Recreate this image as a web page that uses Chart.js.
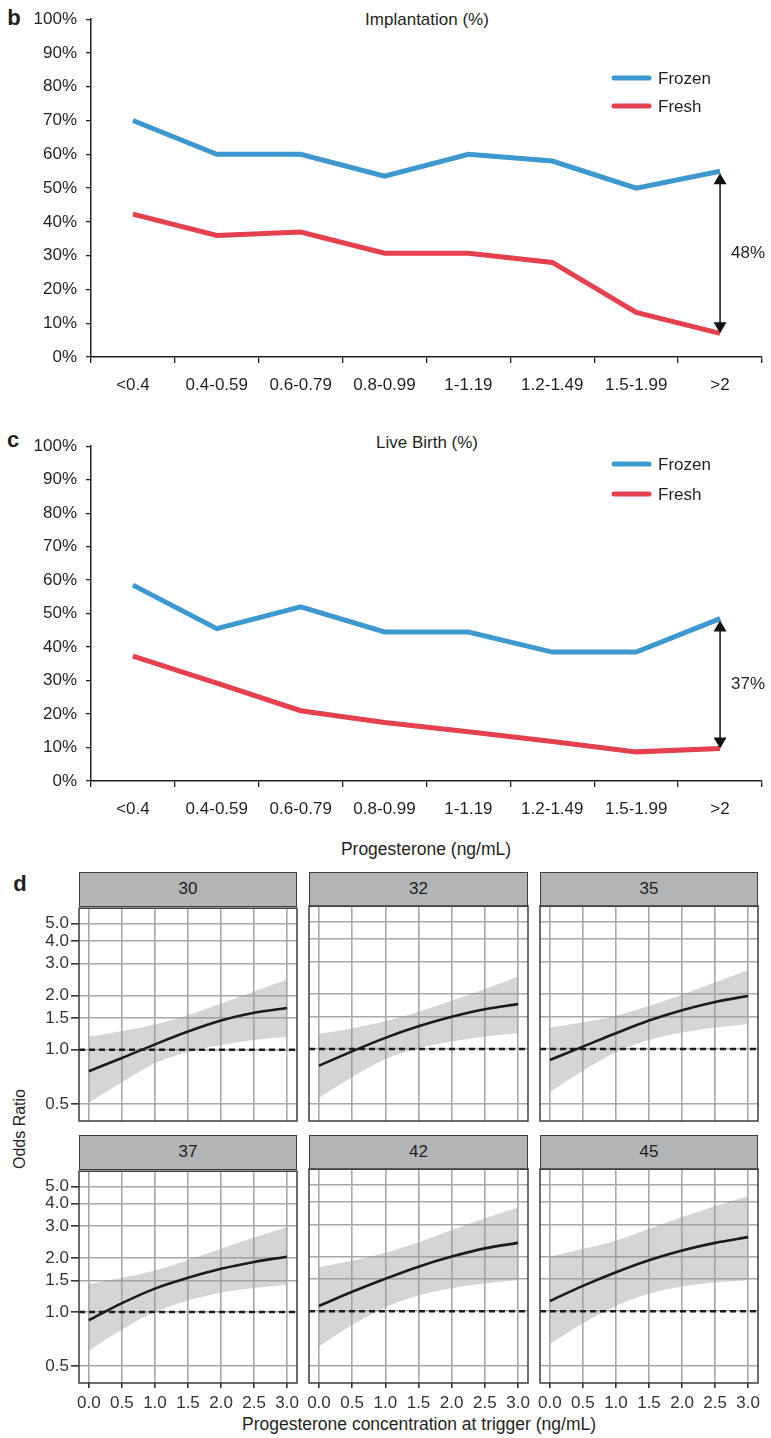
<!DOCTYPE html>
<html>
<head>
<meta charset="utf-8">
<script src="https://cdn.jsdelivr.net/npm/chart.js@4.4.0/dist/chart.umd.min.js"></script>
<style>
  body { margin: 0; background: #fff; }
  #page { position: relative; width: 771px; height: 1438px; font-family: "Liberation Sans", Arial, sans-serif; color: #231f20; overflow: hidden; }
  canvas { position: absolute; }
  .lbl { position: absolute; white-space: nowrap; line-height: 1; transform: translate(-50%, -50%); }
  .strip { position: absolute; box-sizing: border-box; background: #b3b4b6; border: 1.5px solid #3c3c3c; font-size: 17px; text-align: center; }
</style>
</head>
<body>
<div id="page">
  <div class="lbl" style="left:14px;top:18px;font-size:22px;font-weight:bold;">b</div>
  <div class="lbl" style="left:427px;top:19px;font-size:17px;">Implantation (%)</div>
  <canvas id="chartB" width="771" height="400" style="left:0;top:0;"></canvas>

  <div class="lbl" style="left:13px;top:440px;font-size:22px;font-weight:bold;">c</div>
  <div class="lbl" style="left:427px;top:442px;font-size:17px;">Live Birth (%)</div>
  <canvas id="chartC" width="771" height="397" style="left:0;top:427px;"></canvas>
  <div class="lbl" style="left:426px;top:850px;font-size:17.5px;">Progesterone (ng/mL)</div>

  <div class="lbl" style="left:20px;top:884px;font-size:22px;font-weight:bold;">d</div>
  <div class="lbl" style="left:20px;top:1129px;font-size:16px;transform:translate(-50%,-50%) rotate(-90deg);">Odds Ratio</div>
  <div class="lbl" style="left:419px;top:1425px;font-size:17.5px;">Progesterone concentration at trigger (ng/mL)</div>
  <div id="facets"></div>
</div>

<script>
// panels b and c: rates by progesterone group
const doseGroups = ["<0.4", "0.4-0.59", "0.6-0.79", "0.8-0.99", "1-1.19", "1.2-1.49", "1.5-1.99", ">2"];
const implFrozen = [70, 60, 60, 53.5, 60, 58, 50, 55];
const implFresh = [42.3, 36, 37, 30.7, 30.7, 28, 13.2, 7];
const liveFrozen = [58.5, 45.5, 52, 44.5, 44.5, 38.5, 38.5, 48.5];
const liveFresh = [37.3, 29.2, 21, 17.5, 14.7, 11.8, 8.7, 9.7];
const implGap = "48%";
const liveGap = "37%";

// panel d: odds ratio by progesterone, one facet per age
const progX = [0, 0.5, 1, 1.5, 2, 2.5, 3];
const ageGroups = ["30", "32", "35", "37", "42", "45"];
const orFit = [
  [0.76, 0.90, 1.07, 1.26, 1.45, 1.60, 1.70],
  [0.81, 0.97, 1.15, 1.33, 1.50, 1.65, 1.76],
  [0.87, 1.03, 1.22, 1.43, 1.63, 1.81, 1.95],
  [0.90, 1.12, 1.35, 1.55, 1.74, 1.90, 2.03],
  [1.07, 1.28, 1.51, 1.76, 2.00, 2.22, 2.38],
  [1.14, 1.38, 1.64, 1.91, 2.16, 2.38, 2.56]
];
const orLow = [
  [0.51, 0.66, 0.84, 0.97, 1.06, 1.13, 1.18],
  [0.54, 0.70, 0.88, 1.01, 1.10, 1.17, 1.22],
  [0.58, 0.76, 0.96, 1.12, 1.23, 1.31, 1.37],
  [0.61, 0.80, 1.00, 1.16, 1.28, 1.36, 1.42],
  [0.64, 0.84, 1.05, 1.22, 1.34, 1.42, 1.48],
  [0.66, 0.86, 1.07, 1.25, 1.37, 1.44, 1.48]
];
const orHigh = [
  [1.18, 1.27, 1.38, 1.55, 1.80, 2.10, 2.45],
  [1.21, 1.30, 1.42, 1.60, 1.84, 2.13, 2.49],
  [1.31, 1.40, 1.52, 1.72, 1.98, 2.32, 2.71],
  [1.43, 1.55, 1.70, 1.95, 2.25, 2.60, 2.97],
  [1.75, 1.90, 2.10, 2.40, 2.80, 3.25, 3.74],
  [2.00, 2.20, 2.45, 2.85, 3.30, 3.80, 4.30]
];
const orTicks = [0.5, 1, 1.5, 2, 3, 4, 5];
const orRef = 1;

const FONT = '"Liberation Sans", Arial, sans-serif';
const INK = "#231f20";

// arrow between the two series at the last group + hand drawn legend
const gapPlugin = {
  id: "gapArrow",
  afterDatasetsDraw(chart, args, opts) {
    const ctx = chart.ctx;
    const x = chart.scales.x, y = chart.scales.y;
    const last = chart.data.labels.length - 1;
    const px = x.getPixelForValue(last);
    const yTop = y.getPixelForValue(chart.data.datasets[0].data[last]) + 2;
    const yBot = y.getPixelForValue(chart.data.datasets[1].data[last]);

    ctx.save();
    ctx.strokeStyle = "#111";
    ctx.fillStyle = "#111";
    ctx.lineWidth = 1.5;
    ctx.beginPath();
    ctx.moveTo(px, yTop + 8);
    ctx.lineTo(px, yBot - 8);
    ctx.stroke();
    ctx.beginPath();
    ctx.moveTo(px, yTop);
    ctx.lineTo(px - 6.5, yTop + 11);
    ctx.lineTo(px + 6.5, yTop + 11);
    ctx.closePath();
    ctx.fill();
    ctx.beginPath();
    ctx.moveTo(px, yBot);
    ctx.lineTo(px - 6.5, yBot - 11);
    ctx.lineTo(px + 6.5, yBot - 11);
    ctx.closePath();
    ctx.fill();

    ctx.font = "17px " + FONT;
    ctx.textBaseline = "middle";
    ctx.textAlign = "left";
    ctx.fillStyle = INK;
    ctx.fillText(opts.label, px + 11, (yTop + yBot) / 2);

    chart.data.datasets.forEach((ds, i) => {
      const ly = opts.legendY[i];
      ctx.strokeStyle = ds.borderColor;
      ctx.lineWidth = 5;
      ctx.lineCap = "round";
      ctx.beginPath();
      ctx.moveTo(614, ly);
      ctx.lineTo(649, ly);
      ctx.stroke();
      ctx.fillStyle = INK;
      ctx.fillText(ds.label, 658, ly + 1);
    });
    ctx.restore();
  }
};

function ratePanel(id, frozen, fresh, gapLabel, legendY) {
  return new Chart(document.getElementById(id), {
    type: "line",
    data: {
      labels: doseGroups,
      datasets: [
        { label: "Frozen", data: frozen, borderColor: "#3d98cf", borderWidth: 5, pointRadius: 0, tension: 0, fill: false },
        { label: "Fresh", data: fresh, borderColor: "#e4404e", borderWidth: 5, pointRadius: 0, tension: 0, fill: false }
      ]
    },
    options: {
      responsive: false,
      animation: false,
      events: [],
      layout: { padding: { left: 0, top: 15, right: 9, bottom: 0 } },
      plugins: {
        legend: { display: false },
        tooltip: { enabled: false },
        gapArrow: { label: gapLabel, legendY: legendY }
      },
      scales: {
        x: {
          type: "category",
          offset: true,
          grid: { offset: true, drawOnChartArea: false, drawTicks: true, tickLength: 6, tickColor: "#222", lineWidth: 1.3 },
          border: { display: true, color: "#222", width: 1.5 },
          ticks: { font: { size: 17, family: FONT }, color: INK, padding: 12, maxRotation: 0, autoSkip: false },
          afterFit: s => { s.height = 43; }
        },
        y: {
          min: 0,
          max: 100,
          ticks: { stepSize: 10, callback: v => v + "%", font: { size: 17, family: FONT }, color: INK, padding: 9 },
          grid: { drawOnChartArea: false, drawTicks: true, tickLength: 5, tickColor: "#222", lineWidth: 1.3 },
          border: { display: true, color: "#222", width: 1.5 },
          afterFit: s => { s.width = 91; }
        }
      }
    },
    plugins: [gapPlugin]
  });
}

ratePanel("chartB", implFrozen, implFresh, implGap, [78, 106]);
ratePanel("chartC", liveFrozen, liveFresh, liveGap, [37, 67]);

// facet grid
const colLeft = [79, 309, 540];
const colW = [218, 219, 218];
const rowTop = [906, 1169];
const rowH = [215, 214];
const xMin = -0.15, xMax = 3.15;

const borderPlugin = {
  id: "panelBorder",
  afterDraw(chart) {
    const a = chart.chartArea, ctx = chart.ctx;
    ctx.save();
    ctx.strokeStyle = "#3c3c3c";
    ctx.lineWidth = 1.5;
    ctx.strokeRect(a.left, a.top, a.right - a.left, a.bottom - a.top);
    ctx.restore();
  }
};

const holder = document.getElementById("facets");
ageGroups.forEach((age, i) => {
  const r = Math.floor(i / 3), c = i % 3;
  const leftCol = c === 0, bottomRow = r === 1;

  const strip = document.createElement("div");
  strip.className = "strip";
  strip.style.left = colLeft[c] + "px";
  strip.style.top = (rowTop[r] - 34) + "px";
  strip.style.width = colW[c] + "px";
  strip.style.height = "35px";
  strip.style.lineHeight = "32px";
  strip.textContent = age;
  holder.appendChild(strip);

  const cv = document.createElement("canvas");
  cv.width = colW[c] + 45 + 10;
  cv.height = rowH[r] + 10 + 35;
  cv.style.left = (colLeft[c] - 45) + "px";
  cv.style.top = (rowTop[r] - 10) + "px";
  holder.appendChild(cv);

  const pts = arr => progX.map((x, k) => ({ x: x, y: arr[k] }));

  new Chart(cv, {
    type: "line",
    data: {
      datasets: [
        { data: pts(orFit[i]), borderColor: "#1b1b1b", borderWidth: 2.6, pointRadius: 0, cubicInterpolationMode: "monotone", fill: false },
        { data: [{ x: xMin, y: orRef }, { x: xMax, y: orRef }], borderColor: "#1b1b1b", borderWidth: 2.6, borderDash: [6, 4], pointRadius: 0, fill: false },
        { data: pts(orLow[i]), borderColor: "transparent", borderWidth: 0, pointRadius: 0, cubicInterpolationMode: "monotone", fill: false },
        { data: pts(orHigh[i]), borderColor: "transparent", borderWidth: 0, pointRadius: 0, cubicInterpolationMode: "monotone", fill: "-1", backgroundColor: "rgba(150,150,156,0.4)" }
      ]
    },
    options: {
      responsive: false,
      animation: false,
      events: [],
      layout: { padding: { left: 0, top: 10, right: 10, bottom: 0 } },
      plugins: { legend: { display: false }, tooltip: { enabled: false } },
      scales: {
        x: {
          type: "linear",
          min: xMin,
          max: xMax,
          afterBuildTicks: s => { s.ticks = progX.map(v => ({ value: v })); },
          ticks: { display: bottomRow, autoSkip: false, maxRotation: 0, callback: v => Number(v).toFixed(1), font: { size: 17, family: FONT }, color: "#333", padding: 5 },
          grid: { color: "#a8a8a8", lineWidth: 1.6, drawTicks: bottomRow, tickLength: 5, tickColor: "#333" },
          border: { display: false },
          afterFit: s => { s.height = 35; }
        },
        y: {
          type: "logarithmic",
          min: 0.403,
          max: 6.07,
          afterBuildTicks: s => { s.ticks = orTicks.map(v => ({ value: v })); },
          ticks: { display: leftCol, autoSkip: false, callback: v => Number(v).toFixed(1), font: { size: 17, family: FONT }, color: "#333", padding: 2 },
          grid: { color: "#a8a8a8", lineWidth: 1.6, drawTicks: leftCol, tickLength: 8, tickColor: "#333" },
          border: { display: false },
          afterFit: s => { s.width = 45; }
        }
      }
    },
    plugins: [borderPlugin]
  });
});
</script>
</body>
</html>
